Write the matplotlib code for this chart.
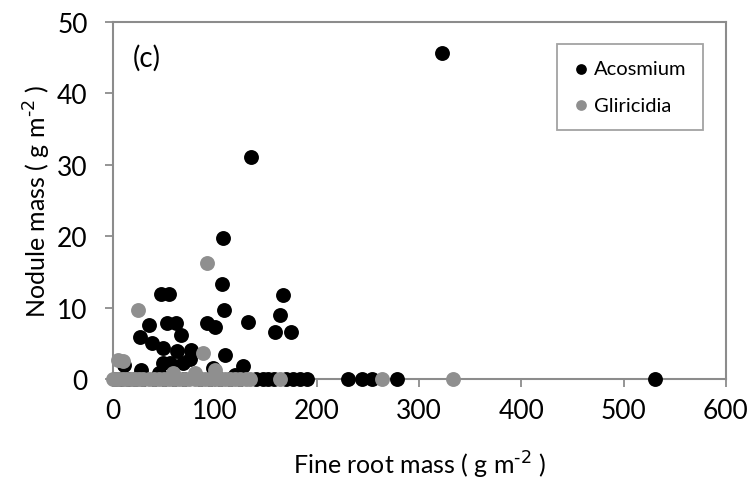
import matplotlib

matplotlib.use("Agg")
import matplotlib.pyplot as plt

plt.rcParams["font.family"] = ["Lato", "DejaVu Sans"]

# Acosmium: fine root mass (x) vs nodule mass (y)
acosmium_x = [322, 135, 107.5, 106.5, 47, 55.5, 167, 108.8, 163.7, 35.5, 52.6, 61.8,
              92, 100, 132, 159, 174, 26.3, 66.7, 38, 49.3, 63, 77, 110, 75.5,
              49.3, 55.9, 69, 98.3, 127.7, 28, 10.8, 45, 120,
              2, 8, 15, 22, 30, 40, 50, 60, 70, 85, 95, 105, 115, 125, 140, 147,
              152, 158, 170, 176, 183, 190, 230, 244, 254, 278, 531]
acosmium_y = [45.6, 31.1, 19.8, 13.3, 11.9, 11.9, 11.7, 9.6, 8.9, 7.6, 7.9, 7.9,
              7.9, 7.3, 8.0, 6.6, 6.6, 5.9, 6.1, 5.1, 4.4, 3.9, 4.0, 3.4, 2.8,
              2.2, 2.2, 2.3, 1.6, 1.8, 1.3, 1.9, 0.8, 0.5,
              0, 0, 0, 0, 0, 0, 0, 0, 0, 0, 0, 0, 0, 0, 0, 0,
              0, 0, 0, 0, 0, 0, 0, 0, 0, 0, 0]

# Gliricidia
gliricidia_x = [92.5, 24.8, 88, 5, 10, 59, 80.5, 100,
                0, 3, 6, 10, 14, 18, 22, 26, 30, 35, 40, 45, 50, 55, 60, 65, 70,
                75, 80, 85, 90, 95, 100, 105, 110, 115, 120, 125, 130, 134,
                164, 264, 333]
gliricidia_y = [16.3, 9.6, 3.7, 2.7, 2.5, 0.9, 0.9, 1.2,
                0, 0, 0, 0, 0, 0, 0, 0, 0, 0, 0, 0, 0, 0, 0, 0, 0,
                0, 0, 0, 0, 0, 0, 0, 0, 0, 0, 0, 0, 0,
                0, 0, 0]

x_ticks = [0, 100, 200, 300, 400, 500, 600]
y_ticks = [0, 10, 20, 30, 40, 50]

SPINE = "#8c8c8c"
GREY = "#8f8f8f"
UNIT = r"( g m$^{\text{-2}}$ )"

fig = plt.figure(figsize=(7.52, 4.85), dpi=100)
ax = fig.add_axes([0.150, 0.2165, 0.815, 0.736])

ax.scatter(acosmium_x, acosmium_y, s=115, color="black", linewidths=0,
           clip_on=False, zorder=3, label="Acosmium")
ax.scatter(gliricidia_x, gliricidia_y, s=115, color=GREY, linewidths=0,
           clip_on=False, zorder=4, label="Gliricidia")

ax.set_xlim(0, 600)
ax.set_ylim(0, 50)
ax.set_xticks(x_ticks)
ax.set_yticks(y_ticks)

for spine in ax.spines.values():
    spine.set_color(SPINE)
    spine.set_linewidth(1.5)
ax.tick_params(direction="out", length=6, width=1.3, color=SPINE,
               labelsize=19, pad=8)
ax.tick_params(axis="y", pad=12)

ax.set_xlabel("Fine root mass " + UNIT, fontsize=18, labelpad=18)
ax.set_ylabel("Nodule mass " + UNIT, fontsize=18, labelpad=3)

ax.text(0.033, 0.9, "(c)", transform=ax.transAxes, fontsize=20, va="center")

leg = ax.legend(loc="upper left", bbox_to_anchor=(0.7247, 0.938), borderaxespad=0,
                fontsize=14.5, markerscale=0.72, handlelength=0.8, handletextpad=0.25,
                labelspacing=0.95, borderpad=0.8, fancybox=False, frameon=True)
leg.get_frame().set_edgecolor(SPINE)
leg.get_frame().set_linewidth(1.3)

fig.savefig("out.png", dpi=100)
